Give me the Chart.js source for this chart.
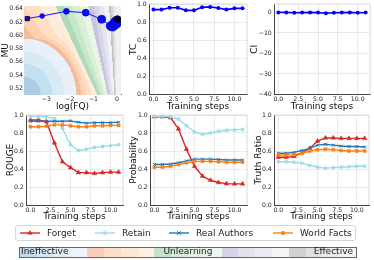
<!DOCTYPE html>
<html><head><meta charset="utf-8">
<script src="https://cdn.jsdelivr.net/npm/chart.js@4.4.0/dist/chart.umd.min.js"></script>
<style>
html,body{margin:0;padding:0;background:#fff;width:374px;height:260px;overflow:hidden;font-family:"DejaVu Sans",sans-serif;}
canvas{position:absolute;}
#legend{position:absolute;left:15px;top:225px;width:341px;height:16px;border:1px solid #d6d6d6;border-radius:3px;box-sizing:border-box;font:9px "DejaVu Sans";color:#222;}
#legend .it{position:absolute;top:0;height:14px;line-height:14px;white-space:nowrap;}
#legend svg{position:absolute;top:2px;}
#cbar{position:absolute;left:19px;top:247px;width:338px;height:11px;border:1px solid #666;box-sizing:border-box;display:flex;}
#cbar div{flex:1 1 0;}
.cbt{position:absolute;top:246px;height:12px;line-height:12px;font:9px "DejaVu Sans";color:#222;white-space:nowrap;}
</style></head><body>
<canvas id="p1" width="127" height="112" style="left:0;top:0"></canvas>
<canvas id="p2" width="123" height="112" style="left:128px;top:0"></canvas>
<canvas id="p3" width="125" height="112" style="left:249px;top:0"></canvas>
<canvas id="p4" width="123" height="112" style="left:5px;top:110px"></canvas>
<canvas id="p5" width="124" height="112" style="left:128px;top:110px"></canvas>
<canvas id="p6" width="121" height="112" style="left:253px;top:110px"></canvas>
<div id="legend"></div>
<div id="cbar"></div>
<div id="cbtext"></div>
<script>
// ---------- data ----------
const steps = [0,1,2,3,4,5,6,7,8,9,10,11];
const logFQ = [-3.81,-3.18,-2.15,-1.33,-0.65,-0.26,-0.18,-0.10,-0.06,-0.03,0.0,0.02];
const muValues = [0.625,0.629,0.636,0.634,0.624,0.614,0.614,0.617,0.620,0.618,0.621,0.624];
const tcValues = [0.938,0.938,0.958,0.958,0.930,0.930,0.963,0.968,0.956,0.938,0.952,0.952];
const ciValues = [0.0,0.0,-0.2,-0.1,0.0,-0.1,-0.4,-0.2,-0.1,0.0,-0.2,-0.1];

const seriesNames = ['Forget','Retain','Real Authors','World Facts'];
const rougeForget  = [0.944,0.944,0.926,0.69,0.48,0.415,0.36,0.36,0.35,0.36,0.365,0.365];
const rougeRetain  = [0.985,0.985,0.98,0.96,0.85,0.67,0.605,0.62,0.64,0.65,0.66,0.67];
const rougeAuthors = [0.93,0.93,0.93,0.93,0.93,0.935,0.92,0.91,0.915,0.915,0.915,0.92];
const rougeFacts   = [0.87,0.87,0.875,0.89,0.89,0.88,0.87,0.87,0.88,0.88,0.885,0.885];

const probForget  = [0.98,0.98,0.97,0.845,0.62,0.43,0.32,0.275,0.25,0.237,0.235,0.235];
const probRetain  = [0.985,0.985,0.98,0.955,0.88,0.81,0.785,0.80,0.82,0.83,0.835,0.84];
const probAuthors = [0.45,0.45,0.455,0.47,0.49,0.51,0.51,0.51,0.505,0.50,0.50,0.50];
const probFacts   = [0.42,0.42,0.43,0.45,0.47,0.485,0.485,0.485,0.48,0.475,0.475,0.475];

const trForget  = [0.53,0.53,0.54,0.58,0.63,0.71,0.745,0.745,0.74,0.74,0.74,0.74];
const trRetain  = [0.48,0.48,0.475,0.465,0.44,0.42,0.41,0.415,0.42,0.425,0.43,0.43];
const trAuthors = [0.575,0.575,0.585,0.605,0.63,0.665,0.675,0.665,0.655,0.65,0.65,0.645];
const trFacts   = [0.555,0.555,0.56,0.575,0.60,0.615,0.62,0.615,0.605,0.60,0.60,0.60];

const stepTicks = [0,2.5,5,7.5,10];
const unitTicks = [0,0.2,0.4,0.6,0.8,1.0];
const fqTicks = [-3,-2,-1,0];
const muTicks = [0.52,0.54,0.56,0.58,0.60,0.62,0.64];
const ciTicks = [-40,-30,-20,-10,0];
const bandLabels = ['Ineffective','Unlearning','Effective'];

// ---------- style ----------
const FONT = 'DejaVu Sans';
const TICK = 6.2;
const seriesColors = ['#d62728','#9edae5','#1f77b4','#ff7f0e'];
const seriesMarkers = ['triangle','star','crossRot','rect'];
const tab20c = ['#3182bd','#6baed6','#9ecae1','#c6dbef','#e6550d','#fd8d3c','#fdae6b','#fdd0a2',
  '#31a354','#74c476','#a1d99b','#c7e9c0','#756bb1','#9e9ac8','#bcbddc','#dadaeb',
  '#636363','#969696','#bdbdbd','#d9d9d9'];
function blend(hex,alpha){const n=parseInt(hex.slice(1),16);const r=(n>>16)&255,g=(n>>8)&255,b=n&255;
  const f=c=>Math.round(255-(255-c)*alpha);return `rgb(${f(r)},${f(g)},${f(b)})`;}
const bandColors = tab20c.map(c=>blend(c,0.4));
const barColors = tab20c.map(c=>blend(c,0.3));
const minus = s => String(s).replace('-','\u2212');

function xAxis(min,max,ticks,fmt,title,h,showGrid){
  return {type:'linear',min,max,
    afterBuildTicks:s=>{s.ticks=ticks.map(v=>({value:v}));},
    afterFit:s=>{s.height=h;s.paddingLeft=0;s.paddingRight=0;},
    ticks:{font:{family:FONT,size:TICK},color:'#222',padding:1.5,maxRotation:0,autoSkip:false,callback:fmt},
    grid:{display:showGrid!==false,color:'#e4e4e4',lineWidth:0.8,drawTicks:false,tickLength:0},
    border:{display:true,color:'#333',width:0.9},
    title:{display:true,text:title,font:{family:FONT,size:9},color:'#111',padding:{top:0,bottom:0}}};
}
function yAxis(min,max,ticks,fmt,title,w,pad,showGrid){
  return {type:'linear',min,max,
    afterBuildTicks:s=>{s.ticks=ticks.map(v=>({value:v}));},
    afterFit:s=>{s.width=w;s.paddingTop=0;s.paddingBottom=0;},
    ticks:{font:{family:FONT,size:TICK},color:'#222',padding:pad,autoSkip:false,callback:fmt},
    grid:{display:showGrid!==false,color:'#e4e4e4',lineWidth:0.8,drawTicks:false,tickLength:0},
    border:{display:true,color:'#333',width:0.9},
    title:{display:true,text:title,font:{family:FONT,size:9},color:'#111',padding:{top:0,bottom:0}}};
}
const framePlugin={id:'frame',afterDatasetsDraw(chart){const {ctx,chartArea:a}=chart;ctx.save();
  ctx.strokeStyle='#d0d0d0';ctx.lineWidth=0.8;ctx.beginPath();ctx.moveTo(a.left,a.top);ctx.lineTo(a.right,a.top);
  ctx.lineTo(a.right,a.bottom);ctx.stroke();ctx.restore();}};

// background bands for the MU / log(FQ) panel (u: 0 at log(FQ)=0 .. 1 at left edge; v: 0 top .. 1 bottom)
const K = 0.68;
const dLines = [1.35,0.66,0.31,0.085];
const discA = 0.56, discB = 0.63;
function boundaryU(i,v){
  const lineU = dLines[i]*(1-K*v);
  if(i===0){ const t=(1-v)/discB; if(t<1){ const eu=1-discA*Math.sqrt(1-t*t); return Math.min(lineU,eu);} }
  return lineU;
}
function levelAt(u,v){
  if(u<=0) return 19;
  const rho=Math.hypot((1-u)/discA,(1-v)/discB);
  const b=[0,1,2,3].map(i=>boundaryU(i,v));
  if(u>=b[0]) return Math.max(0,Math.min(3,Math.floor(rho*4.4-0.4)));
  for(let g=1;g<4;g++){ if(u>=b[g]) return 4*g+Math.min(3,Math.floor((b[g-1]-u)/(b[g-1]-b[g])*4)); }
  return 16+Math.min(3,Math.floor((b[3]-u)/b[3]*4));
}
const bandPlugin={id:'bands',beforeDatasetsDraw(chart){
  const {ctx,chartArea:a,scales:{x}}=chart; const x0=x.getPixelForValue(0);
  const w=x0-a.left, h=a.bottom-a.top; ctx.save();
  for(let px=Math.floor(a.left);px<a.right;px++){for(let py=Math.floor(a.top);py<a.bottom;py++){
    const u=(x0-(px+0.5))/w; const v=(py+0.5-a.top)/h;
    ctx.fillStyle=bandColors[levelAt(u,v)]; ctx.fillRect(px,py,1,1);}}
  ctx.restore();}};

const common=(pad)=>({responsive:false,animation:false,devicePixelRatio:1,layout:{padding:pad},
  plugins:{legend:{display:false},tooltip:{enabled:false}}});
const fmt1=v=>minus(Number(v).toFixed(1));

// panel 1
new Chart(document.getElementById('p1'),{type:'line',
  data:{datasets:[{data:logFQ.map((v,i)=>({x:v,y:muValues[i]})),borderColor:'#1414ff',borderWidth:1,
    backgroundColor:'#0a0aff',
    pointStyle:c=>c.dataIndex===0?'rect':(c.dataIndex===logFQ.length-1?'star':'circle'),
    pointRadius:c=>c.dataIndex===0?3:(c.dataIndex===logFQ.length-1?4:Math.min(5,1.8+0.55*c.dataIndex)),
    pointBorderColor:c=>(c.dataIndex===0||c.dataIndex===logFQ.length-1)?'#000':'#0000c8',
    pointBorderWidth:c=>c.dataIndex===logFQ.length-1?2:0.8}]},
  options:{...common({top:3,right:3,left:0,bottom:0}),
    scales:{x:xAxis(-3.95,0.17,fqTicks,v=>minus(v),'log(FQ)',17.5,false),
            y:yAxis(0.511,0.644,muTicks,v=>Number(v).toFixed(2),'MU',24,1,false)}},
  plugins:[bandPlugin]});

function singleLine(id,vals,ymin,ymax,yt,yfmt,ytitle,yw,pad){
  new Chart(document.getElementById(id),{type:'line',
    data:{datasets:[{data:steps.map((s,i)=>({x:s,y:vals[i]})),borderColor:'#0000ff',backgroundColor:'#0000ff',
      borderWidth:1.6,pointRadius:2,pointBorderWidth:0}]},
    options:{...common(pad),scales:{x:xAxis(-0.55,11.55,stepTicks,fmt1,'Training steps',17.5),
      y:yAxis(ymin,ymax,yt,yfmt,ytitle,yw,2.2)}},plugins:[framePlugin]});
}
singleLine('p2',tcValues,0,1,unitTicks,fmt1,'TC',21,{top:3,right:3,left:0,bottom:0});
singleLine('p3',ciValues,-40,4.1,ciTicks,v=>minus(v),'CI',25,{top:3,right:1,left:0,bottom:0});

function multi(id,sets,ytitle,yw,pad){
  new Chart(document.getElementById(id),{type:'line',
    data:{datasets:sets.map((vals,i)=>({label:seriesNames[i],data:steps.map((s,j)=>({x:s,y:vals[j]})),
      borderColor:seriesColors[i],backgroundColor:seriesColors[i],borderWidth:1.4,order:3-i,
      pointStyle:seriesMarkers[i],pointRadius:i===0?2.6:2.1,pointBorderWidth:i===1||i===2?1:0.5}))},
    options:{...common(pad),scales:{x:xAxis(-0.55,11.55,stepTicks,fmt1,'Training steps',17),
      y:yAxis(0,1,unitTicks,fmt1,ytitle,yw,2.2)}},plugins:[framePlugin]});
}
multi('p4',[rougeForget,rougeRetain,rougeAuthors,rougeFacts],'ROUGE',21,{top:5,right:3.5,left:0,bottom:0});
multi('p5',[probForget,probRetain,probAuthors,probFacts],'Probability',22,{top:5,right:3,left:0,bottom:0});
multi('p6',[trForget,trRetain,trAuthors,trFacts],'Truth Ratio',21,{top:5,right:1,left:0,bottom:0});

// legend
const legendPos=[{l:4,t:31},{l:79,t:106},{l:153,t:180},{l:257,t:284}];
const mk={
  triangle:c=>`<polygon points="10,2 12.6,6.5 7.4,6.5" fill="${c}"/>`,
  star:c=>`<path d="M10,2.2V7.8M7.6,3.6L12.4,6.4M7.6,6.4L12.4,3.6" stroke="${c}" stroke-width="0.9"/>`,
  crossRot:c=>`<path d="M8.2,3.2L11.8,6.8M8.2,6.8L11.8,3.2" stroke="${c}" stroke-width="1"/>`,
  rect:c=>`<rect x="8.2" y="3.2" width="3.6" height="3.6" fill="${c}"/>`};
const lg=document.getElementById('legend');
seriesNames.forEach((n,i)=>{const c=seriesColors[i];
  lg.insertAdjacentHTML('beforeend',`<svg width="20" height="10" style="left:${legendPos[i].l}px"><line x1="0" y1="5" x2="20" y2="5" stroke="${c}" stroke-width="1.4"/>${mk[seriesMarkers[i]](c)}</svg><div class="it" style="left:${legendPos[i].t}px">${n}</div>`);});
// colour bar
const cb=document.getElementById('cbar');
barColors.forEach(c=>cb.insertAdjacentHTML('beforeend',`<div style="background:${c}"></div>`));
const ct=document.getElementById('cbtext');
ct.insertAdjacentHTML('beforeend',`<div class="cbt" style="left:21px">${bandLabels[0]}</div>`);
ct.insertAdjacentHTML('beforeend',`<div class="cbt" style="left:188px;transform:translateX(-50%)">${bandLabels[1]}</div>`);
ct.insertAdjacentHTML('beforeend',`<div class="cbt" style="right:${374-353}px">${bandLabels[2]}</div>`);
</script>
</body></html>
